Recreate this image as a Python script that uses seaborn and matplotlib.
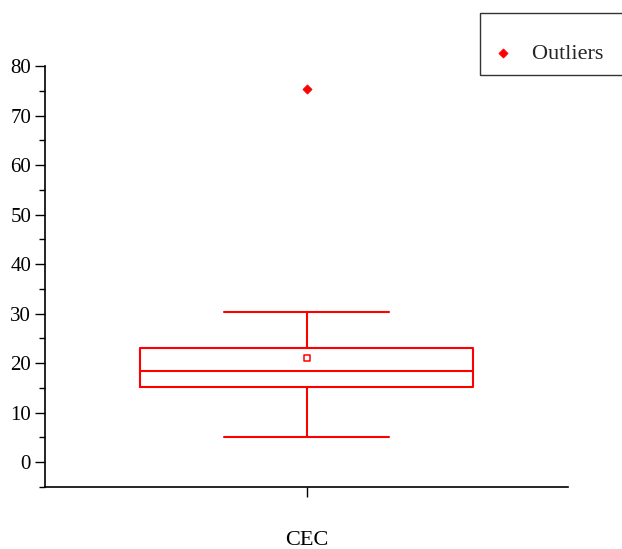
import matplotlib
matplotlib.use('Agg')
import matplotlib.pyplot as plt
import seaborn as sns
import pandas as pd
from matplotlib.ticker import MultipleLocator

sns.set_style('ticks')
plt.rcParams['font.family'] = ['Liberation Serif', 'DejaVu Serif']

# box statistics
category = ['CEC']
q1 = [15.2]
median = [18.4]
q3 = [23.1]
whisker_low = [5.1]
whisker_high = [30.4]
mean = [21.1]
outliers = [75.3]

red = '#ff0000'

fig = plt.figure(figsize=(6.22, 5.49), dpi=100)
ax = fig.add_axes([45/622, 1-487/549, (568-45)/622, (487-66)/549])

stats = [{'label': category[0], 'q1': q1[0], 'med': median[0], 'q3': q3[0],
          'whislo': whisker_low[0], 'whishi': whisker_high[0], 'mean': mean[0], 'fliers': []}]
ax.bxp(stats, positions=[0], widths=0.637, showfliers=False, showmeans=False,
       capwidths=0.317,
       boxprops=dict(color=red, linewidth=1.5),
       medianprops=dict(color=red, linewidth=1.5),
       whiskerprops=dict(color=red, linewidth=1.5),
       capprops=dict(color=red, linewidth=1.5))

df_out = pd.DataFrame({'x': [0] * len(outliers), 'y': outliers})
sns.scatterplot(data=df_out, x='x', y='y', marker='D', color=red, s=22,
                edgecolor=red, linewidth=0.5, label='Outliers   ', ax=ax)
df_mean = pd.DataFrame({'x': [0], 'y': mean})
sns.scatterplot(data=df_mean, x='x', y='y', marker='s', s=18, facecolor='white',
                edgecolor=red, linewidth=1.1, ax=ax, legend=False)

ax.set_xlim(-0.5, 0.5)
ax.set_ylim(-5, 80)
ax.yaxis.set_major_locator(MultipleLocator(10))
ax.yaxis.set_minor_locator(MultipleLocator(5))
ax.set_xticks([0])
ax.set_xticklabels(category)
ax.set_xlabel('')
ax.set_ylabel('')
ax.tick_params(axis='y', which='major', length=7, width=1, labelsize=15, pad=3, color='black')
ax.tick_params(axis='y', which='minor', length=4, width=1, color='black')
ax.tick_params(axis='x', which='major', length=7, width=1, labelsize=16, pad=25, color='black')
for lab in ax.get_yticklabels() + ax.get_xticklabels():
    lab.set_color('black')

sns.despine(ax=ax)
ax.spines['left'].set_linewidth(1.2)
ax.spines['bottom'].set_linewidth(1.2)
ax.spines['left'].set_color('black')
ax.spines['bottom'].set_color('black')

leg = ax.legend(loc='upper left', bbox_to_anchor=(480/622, 1-13/549),
                bbox_transform=fig.transFigure, fontsize=16, frameon=True,
                fancybox=False, borderpad=0.5, handletextpad=0.75, borderaxespad=0,
                handlelength=1.1, markerscale=1.0, title=' ', title_fontsize=6)
leg.get_frame().set_edgecolor('black')
leg.get_frame().set_linewidth(1.0)

fig.savefig('out.png', dpi=100)
